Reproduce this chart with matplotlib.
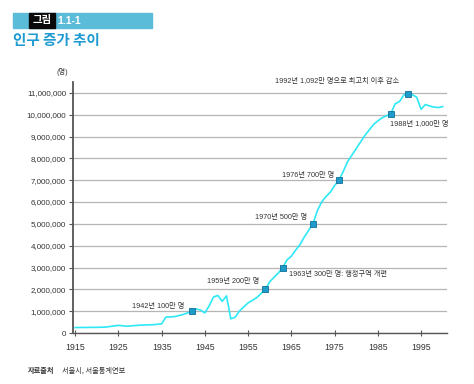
import matplotlib
matplotlib.use("Agg")
import matplotlib.pyplot as plt
from matplotlib.patches import Rectangle
from matplotlib.ticker import FuncFormatter, MultipleLocator

plt.rcParams['font.family'] = ['Liberation Sans', 'Noto Sans CJK KR', 'DejaVu Sans']

years = [1915, 1920, 1922, 1925, 1927, 1930, 1933, 1935, 1936, 1938, 1940, 1942,
         1943, 1944, 1945, 1946, 1947, 1948, 1949, 1950, 1951, 1952, 1953, 1955,
         1957, 1959, 1960, 1961, 1962, 1963, 1964, 1965, 1966, 1967, 1968, 1969,
         1970, 1971, 1972, 1973, 1974, 1975, 1976, 1977, 1978, 1979, 1980, 1981,
         1982, 1983, 1984, 1985, 1986, 1987, 1988, 1989, 1990, 1991, 1992, 1993,
         1994, 1995, 1996, 1997, 1998, 1999, 2000]
population = [0.25, 0.26, 0.27, 0.35, 0.31, 0.36, 0.38, 0.42, 0.73, 0.75, 0.85, 1.00,
              1.10, 1.05, 0.92, 1.25, 1.65, 1.72, 1.45, 1.70, 0.65, 0.72, 1.01, 1.38,
              1.62, 2.00, 2.35, 2.55, 2.75, 3.00, 3.35, 3.52, 3.80, 4.05, 4.40, 4.70,
              5.00, 5.60, 6.00, 6.25, 6.45, 6.75, 7.00, 7.40, 7.85, 8.15, 8.45, 8.75,
              9.05, 9.30, 9.55, 9.72, 9.86, 9.95, 10.05, 10.50, 10.60, 10.90, 10.97, 10.92,
              10.80, 10.25, 10.47, 10.40, 10.35, 10.33, 10.37]
population = [v * 1e6 for v in population]

marker_years = [1942, 1959, 1963, 1970, 1976, 1988, 1992]
marker_values = [1.00e6, 2.00e6, 3.00e6, 5.00e6, 7.00e6, 10.05e6, 10.97e6]
marker_labels = ['1942년 100만 명', '1959년 200만 명', '1963년 300만 명: 행정구역 개편',
                 '1970년 500만 명', '1976년 700만 명', '1988년 1,000만 명',
                 '1992년 1,092만 명으로 최고치 이후 감소']
label_offsets = [(-5.4, 3.6, 'right'), (-4.3, 5.3, 'right'), (4.3, -5.3, 'left'),
                 (-4.1, 4.3, 'right'), (-3.6, 3.6, 'right'), (-0.7, -7.9, 'left'),
                 (-6.2, 8.4, 'right')]

x_ticks = [1915, 1925, 1935, 1945, 1955, 1965, 1975, 1985, 1995]

fig = plt.figure(figsize=(4.74, 3.84), dpi=100)
fig.patch.set_facecolor('white')

# header
fig.patches.append(Rectangle((13/474, 1-27.7/384), 139/474, 14.7/384,
                             transform=fig.transFigure, color='#5bbcd9', zorder=0))
fig.patches.append(Rectangle((29/474, 1-27.7/384), 26/474, 14.7/384,
                             transform=fig.transFigure, color='#0a0a0a', zorder=1))
fig.text(42/474, 1-20.5/384, '그림', color='white', fontsize=7.5, fontweight='bold',
         ha='center', va='center', family=['Noto Sans CJK KR'])
fig.text(57/474, 1-20.5/384, '1.1-1', color='white', fontsize=7.5, fontweight='bold',
         ha='left', va='center')
fig.text(13/474, 1-40/384, '인구 증가 추이', color='#1f9bd1', fontsize=10.5,
         fontweight='bold', ha='left', va='center', family=['Noto Sans CJK KR'])

ax = fig.add_axes([73/474, 1-333/384, 374/474, 251/384])
ax.plot(years, population, color='#2ee8f5', lw=1.2, zorder=3)
ax.plot(marker_years, marker_values, ls='none', marker='s', ms=5,
        mfc='#1e9bc8', mec='#0d6f98', mew=0.6, zorder=4)

for yr, val, lab, (dx, dy, ha) in zip(marker_years, marker_values, marker_labels, label_offsets):
    ax.annotate(lab, (yr, val), xytext=(dx, dy), textcoords='offset points',
                ha=ha, va='center', fontsize=5.2, color='#333333',
                family=['Liberation Sans', 'Noto Sans CJK KR'])

ax.set_xlim(1914.5, 2001)
ax.set_ylim(0, 11.5e6)
ax.set_xticks(x_ticks)
ax.yaxis.set_major_locator(MultipleLocator(1e6))
ax.yaxis.set_major_formatter(FuncFormatter(lambda v, p: f'{int(v):,}'))
ax.grid(axis='y', color='#b5b5b5', lw=0.9)
ax.set_axisbelow(True)
for s in ['top', 'right']:
    ax.spines[s].set_visible(False)
ax.spines['left'].set_color('#555555')
ax.spines['left'].set_linewidth(1.3)
ax.spines['bottom'].set_color('#555555')
ax.spines['bottom'].set_linewidth(1.0)
ax.tick_params(axis='y', direction='out', length=3, width=0.8, color='#555555',
               labelsize=5.8, labelcolor='#333333', pad=2)
ax.tick_params(axis='x', direction='inout', length=4, width=0.8, color='#555555',
               labelsize=6.3, labelcolor='#333333', pad=5)

fig.text(62/474, 1-72/384, '(명)', fontsize=5.2, color='#333333', ha='center', va='center',
         family=['Liberation Sans', 'Noto Sans CJK KR'])
fig.text(28/474, 1-370.7/384, '자료출처', fontsize=5.2, color='#333333', ha='left',
         va='center', fontweight='bold', family=['Noto Sans CJK KR'])
fig.text(62/474, 1-370.7/384, '서울시, 서울통계연보', fontsize=5.2, color='#333333',
         ha='left', va='center', family=['Noto Sans CJK KR'])

fig.savefig('out.png', dpi=100, facecolor='white')
